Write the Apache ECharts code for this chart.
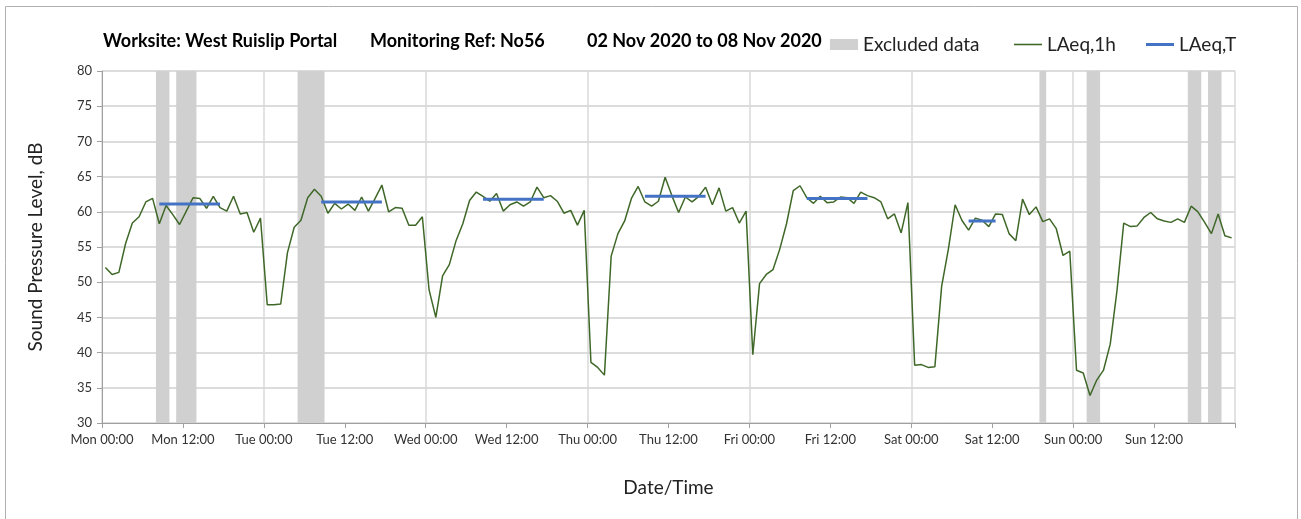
<!DOCTYPE html>
<html>
<head>
<meta charset="utf-8">
<script src="https://cdn.jsdelivr.net/npm/echarts@6/dist/echarts.min.js"></script>
<style>
  html, body { margin: 0; padding: 0; background: #fff; }
  #chart { width: 1301px; height: 519px; }
</style>
</head>
<body>
<div id="chart"></div>
<script>
// hourly LAeq,1h values, Mon 00:00 .. Sun 23:00
var laeq1h = [
  52.1, 51.1, 51.4, 55.5, 58.4, 59.3, 61.4, 61.9, 58.3, 60.9, 59.6, 58.2,
  60.1, 62.0, 61.9, 60.5, 62.2, 60.6, 60.1, 62.2, 59.7, 59.9, 57.1, 59.1,
  46.8, 46.8, 46.9, 54.2, 57.8, 58.8, 62.0, 63.2, 62.2, 59.8, 61.2, 60.4,
  61.1, 60.2, 62.1, 60.1, 61.9, 63.8, 60.0, 60.6, 60.5, 58.1, 58.1, 59.3,
  48.9, 45.0, 50.9, 52.5, 55.9, 58.3, 61.6, 62.8, 62.2, 61.5, 62.6, 60.1,
  61.0, 61.4, 60.8, 61.4, 63.5, 62.0, 62.3, 61.5, 59.8, 60.2, 58.1, 60.2,
  38.6, 37.9, 36.8, 53.7, 56.9, 58.7, 61.9, 63.6, 61.4, 60.8, 61.5, 64.9,
  62.3, 59.9, 62.1, 61.4, 62.2, 63.5, 61.0, 63.4, 60.1, 60.6, 58.4, 60.1,
  39.7, 49.8, 51.1, 51.8, 54.7, 58.3, 63.0, 63.7, 62.0, 61.2, 62.2, 61.3,
  61.4, 62.1, 62.0, 61.2, 62.8, 62.3, 62.0, 61.4, 59.0, 59.7, 57.0, 61.3,
  38.2, 38.3, 37.9, 38.0, 49.4, 54.7, 61.0, 58.8, 57.4, 59.1, 58.8, 57.9,
  59.7, 59.6, 56.9, 55.9, 61.8, 59.6, 60.7, 58.6, 59.0, 57.6, 53.8, 54.4,
  37.5, 37.1, 33.9, 36.1, 37.5, 41.2, 48.8, 58.4, 57.9, 58.0, 59.2, 59.9,
  59.0, 58.7, 58.5, 59.0, 58.5, 60.8, 60.0, 58.5, 56.9, 59.7, 56.6, 56.3
];

// LAeq,T periods: [first hour, last hour, level]
var laeqT = [
  [8, 17, 61.1],
  [32, 41, 61.4],
  [56, 65, 61.8],
  [80, 89, 62.2],
  [104, 113, 61.9],
  [128, 132, 58.7]
];

// excluded periods in hours from Mon 00:00: [from, to]
var excluded = [[8, 10], [11, 14], [29, 33], [139, 140], [146, 148], [161, 163], [164, 166]];

var days = ['Mon', 'Tue', 'Wed', 'Thu', 'Fri', 'Sat', 'Sun'];
var titleParts = ['Worksite: West Ruislip Portal', 'Monitoring Ref: No56', '02 Nov 2020 to 08 Nov 2020'];

var font = 'Lato';
var dom = document.getElementById('chart');
var myChart = echarts.init(dom, null, { renderer: 'canvas' });

var series = [
  {
    name: 'Excluded data',
    type: 'line',
    data: [],
    itemStyle: { color: '#d0d0d0' },
    markArea: {
      silent: true,
      itemStyle: { color: '#d0d0d0' },
      data: excluded.map(function (e) { return [{ xAxis: e[0] }, { xAxis: e[1] }]; })
    }
  },
  {
    name: 'LAeq,1h',
    type: 'line',
    symbol: 'none',
    data: laeq1h.map(function (v, i) { return [i + 0.5, v]; }),
    lineStyle: { color: '#3f6828', width: 1.5 },
    itemStyle: { color: '#3f6828' },
    z: 3
  }
];
laeqT.forEach(function (p) {
  series.push({
    name: 'LAeq,T',
    type: 'line',
    symbol: 'none',
    data: [[p[0] + 0.5, p[2]], [p[1] + 0.5, p[2]]],
    lineStyle: { color: '#4472c4', width: 3 },
    itemStyle: { color: '#4472c4' },
    z: 4
  });
});

var titleLeft = [103, 370, 587];
var titleStyle = { fontFamily: font, fontSize: 18, fontWeight: 'bold', color: '#000' };

function legendAt(left, name, icon) {
  return {
    left: left,
    top: 35,
    padding: 0,
    itemWidth: 28,
    itemHeight: 11,
    textStyle: { fontFamily: font, fontSize: 19, color: '#222' },
    data: [{ name: name, icon: icon }]
  };
}

var option = {
  backgroundColor: '#fff',
  animation: false,
  textStyle: { fontFamily: font },
  title: titleParts.map(function (t, i) {
    return { text: t, left: titleLeft[i], top: 32, padding: 0, textStyle: titleStyle };
  }),
  legend: [
    legendAt(830, 'Excluded data', 'rect'),
    legendAt(1014, 'LAeq,1h', 'path://M0,0H28V1.6H0Z'),
    legendAt(1146, 'LAeq,T', 'path://M0,0H28V3H0Z')
  ],
  graphic: [{
    type: 'rect',
    shape: { x: 5.5, y: 6.5, width: 1292, height: 530 },
    style: { fill: null, stroke: '#b0b0b0', lineWidth: 1 },
    silent: true
  }],
  grid: { left: 102, right: 66, top: 71, bottom: 96 },
  xAxis: [
    {
      type: 'value',
      min: 0,
      max: 168,
      interval: 12,
      name: 'Date/Time',
      nameLocation: 'middle',
      nameGap: 55,
      nameTextStyle: { fontFamily: font, fontSize: 19, color: '#222' },
      axisLine: { lineStyle: { color: '#a0a0a0', width: 1 } },
      axisTick: { show: true, length: 5, lineStyle: { color: '#a0a0a0' } },
      axisLabel: {
        fontFamily: font, fontSize: 13, color: '#333', margin: 10,
        formatter: function (v) {
          if (v >= 168) return '';
          return days[Math.floor(v / 24)] + ' ' + (v % 24 === 0 ? '00:00' : '12:00');
        }
      },
      splitLine: { show: false }
    },
    {
      type: 'value',
      min: 0,
      max: 168,
      interval: 24,
      position: 'bottom',
      axisLine: { show: false },
      axisTick: { show: false },
      axisLabel: { show: false },
      splitLine: { show: true, lineStyle: { color: '#d9d9d9', width: 1.5 } }
    }
  ],
  yAxis: {
    type: 'value',
    min: 30,
    max: 80,
    interval: 5,
    name: 'Sound Pressure Level, dB',
    nameLocation: 'middle',
    nameGap: 57,
    nameTextStyle: { fontFamily: font, fontSize: 19, color: '#222' },
    axisLine: { show: true, lineStyle: { color: '#a0a0a0', width: 1 } },
    axisTick: { show: true, length: 5, lineStyle: { color: '#a0a0a0' } },
    axisLabel: { fontFamily: font, fontSize: 13, color: '#333', margin: 10 },
    splitLine: { show: true, lineStyle: { color: '#d0d0d0', width: 1.5 } }
  },
  series: series
};

myChart.setOption(option);
window.addEventListener('resize', myChart.resize);
</script>
</body>
</html>
